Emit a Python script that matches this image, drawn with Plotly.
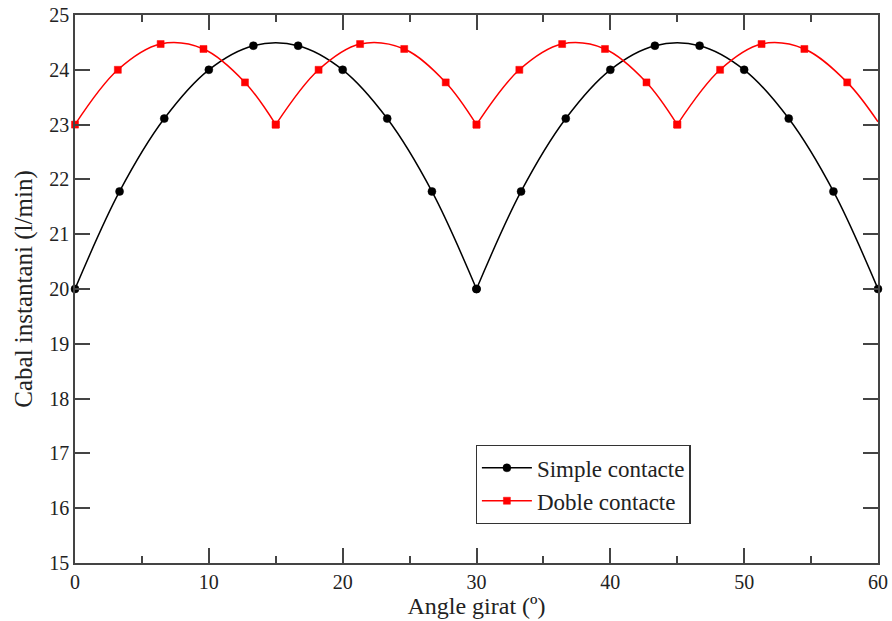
import plotly.graph_objects as go

# Simple contacte (markers)
simple_x = [0, 3.33, 6.67, 10, 13.33, 16.67, 20, 23.33, 26.67, 30,
            33.33, 36.67, 40, 43.33, 46.67, 50, 53.33, 56.67, 60]
simple_y = [20.0, 21.78, 23.11, 24.0, 24.44, 24.44, 24.0, 23.11, 21.78, 20.0,
            21.78, 23.11, 24.0, 24.44, 24.44, 24.0, 23.11, 21.78, 20.0]

# Doble contacte
doble_x = [0, 3.2, 6.4, 9.6, 12.7, 15,
           18.2, 21.3, 24.6, 27.7, 30,
           33.2, 36.4, 39.6, 42.7, 45,
           48.2, 51.3, 54.5, 57.7, 60]
doble_y = [23.0, 24.0, 24.47, 24.38, 23.77, 23.0,
           24.0, 24.47, 24.38, 23.77, 23.0,
           24.0, 24.47, 24.38, 23.77, 23.0,
           24.0, 24.47, 24.38, 23.77, 23.05]
doble_marked = [True] * 20 + [False]

x_ticks = [0, 10, 20, 30, 40, 50, 60]
y_ticks = [15, 16, 17, 18, 19, 20, 21, 22, 23, 24, 25]

FONT = "Liberation Serif"


def split_arcs(xs, ys):
    """Split a series at its local minima (cusps) so each arc is smoothed separately."""
    cusps = [0] + [i for i in range(1, len(ys) - 1) if ys[i] < ys[i - 1] and ys[i] < ys[i + 1]] + [len(ys) - 1]
    return [(cusps[k], cusps[k + 1]) for k in range(len(cusps) - 1)]


fig = go.Figure()


def add_series(xs, ys, name, color, symbol, size, marked=None):
    if marked is None:
        marked = [True] * len(xs)
    for k, (a, b) in enumerate(split_arcs(xs, ys)):
        sizes = [size if marked[i] else 0 for i in range(a, b + 1)]
        fig.add_trace(go.Scatter(
            x=xs[a:b + 1], y=ys[a:b + 1], mode="lines+markers", name=name,
            legendgroup=name, showlegend=(k == 0),
            line=dict(color=color, width=1.5, shape="spline", smoothing=1.0),
            marker=dict(color=color, symbol=symbol, size=sizes, opacity=1,
                        line=dict(width=0.5, color=color)),
            cliponaxis=False,
        ))


add_series(simple_x, simple_y, "Simple contacte", "black", "circle", 8)
add_series(doble_x, doble_y, "Doble contacte", "#ff0000", "square", 7, doble_marked)

axis_common = dict(
    showline=True, linecolor="#444", linewidth=1.5, mirror="ticks",
    ticks="inside", tickcolor="#444", tickwidth=1.5, showgrid=False, zeroline=False,
    tickfont=dict(family=FONT, size=20, color="#222"), automargin=False,
)

fig.update_xaxes(
    range=[0, 60], tickvals=x_ticks, ticklen=15,
    minor=dict(dtick=5, ticks="inside", ticklen=7, tickcolor="#444", tickwidth=1.5, showgrid=False),
    title=dict(text="Angle girat (º)", font=dict(family=FONT, size=24, color="#222"), standoff=3),
    **axis_common,
)
fig.update_yaxes(
    range=[15, 25], tickvals=y_ticks, ticklen=15,
    title=dict(text="Cabal instantani (l/min)", font=dict(family=FONT, size=25, color="#222"), standoff=10),
    **axis_common,
)

fig.update_layout(
    width=892, height=621,
    margin=dict(l=75, r=14, t=15, b=58, autoexpand=False),
    plot_bgcolor="white", paper_bgcolor="white",
    legend=dict(
        x=0.499, y=0.215, xanchor="left", yanchor="top",
        bgcolor="white", bordercolor="#333", borderwidth=1.2,
        font=dict(family=FONT, size=23, color="#222"),
        tracegroupgap=0, itemwidth=50,
    ),
)

fig.write_html("out.html")
